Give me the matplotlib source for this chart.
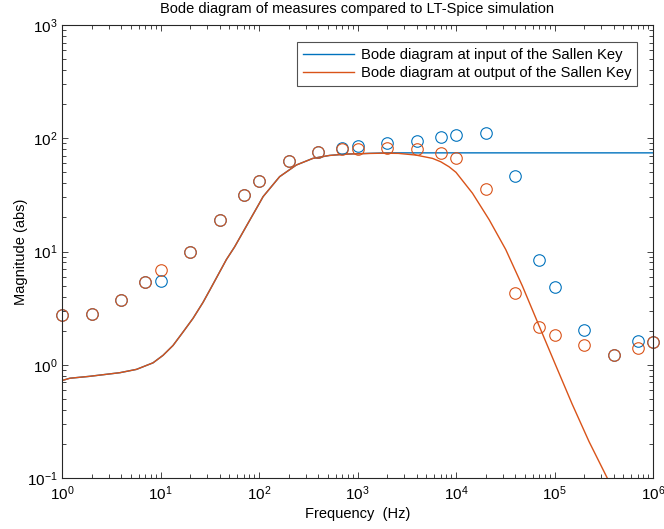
import matplotlib
matplotlib.use("Agg")
import matplotlib.pyplot as plt
from matplotlib.ticker import LogLocator, NullFormatter

plt.rcParams['font.family'] = ['Liberation Sans', 'DejaVu Sans']
plt.rcParams['mathtext.fontset'] = 'custom'
plt.rcParams['mathtext.rm'] = 'Liberation Sans'
plt.rcParams['mathtext.it'] = 'Liberation Sans:italic'
plt.rcParams['mathtext.bf'] = 'Liberation Sans:bold'

# Measured frequencies (Hz)
freq_meas = [1, 2, 4, 7, 10, 20, 40, 70, 100, 200, 400, 700, 1000, 2000, 4000,
             7000, 10000, 20000, 40000, 70000, 100000, 200000, 400000, 700000, 1000000]
# Measured magnitude at input
mag_in_meas = [2.75, 2.8, 3.72, 5.35, 5.46, 9.94, 19.0, 31.7, 42.0, 62.9, 75.9,
               81.2, 85.1, 90.4, 94.2, 102, 107, 110.6, 46.7, 8.46, 4.86, 2.04,
               1.22, 1.61, 1.59]
# Measured magnitude at output
mag_out_meas = [2.75, 2.8, 3.72, 5.42, 6.91, 9.94, 19.0, 31.7, 42.0, 62.9, 75.9,
                79.6, 80.6, 81.7, 79.6, 74.3, 66.4, 35.9, 4.28, 2.15, 1.84, 1.48,
                1.22, 1.41, 1.59]

# LT-Spice simulation, input node
freq_sim_in = [1, 1.2, 1.9, 3.87, 5.7, 8.4, 10.6, 13.4, 16.9, 21.4, 27, 32, 46.7,
               56.6, 74.3, 101, 110, 162, 239, 352, 519, 767, 1320, 2000, 5000,
               20000, 100000, 1000000]
mag_in_sim = [0.725, 0.76, 0.79, 0.851, 0.91, 1.04, 1.21, 1.48, 1.94, 2.57, 3.55,
              4.64, 8.5, 11.0, 16.7, 26.7, 30.5, 45.8, 58.0, 66.4, 70.5, 72.5,
              73.6, 74.3, 74.3, 74.3, 74.3, 74.3]

# LT-Spice simulation, output node
freq_sim_out = [1, 1.2, 1.9, 3.87, 5.7, 8.4, 10.6, 13.4, 16.9, 21.4, 27, 32, 46.7,
                56.6, 74.3, 101, 110, 162, 239, 352, 519, 767, 1320, 1800, 2600,
                3930, 5780, 7000, 8500, 10000, 14700, 21700, 32000, 47200, 69700,
                102800, 151000, 224000, 343000, 1000000]
mag_out_sim = [0.725, 0.76, 0.79, 0.851, 0.91, 1.04, 1.21, 1.48, 1.94, 2.57, 3.55,
               4.64, 8.5, 11.0, 16.7, 26.7, 30.5, 45.8, 58.0, 66.4, 70.5, 72.4,
               73.4, 73.8, 73.5, 71.0, 66.4, 62.0, 56.0, 50.0, 32.7, 19.1, 10.4,
               4.96, 2.21, 0.99, 0.45, 0.21, 0.1, 0.0125]

labels = ['Bode diagram at input of the Sallen Key',
          'Bode diagram at output of the Sallen Key']

c_blue = '#0072BD'
c_orange = '#D95319'

fig = plt.figure(figsize=(6.64, 5.29), dpi=100)
ax = fig.add_axes([62/664, 1-478/529, (653-62)/664, (478-25)/529])

ax.plot(freq_sim_in, mag_in_sim, color=c_blue, lw=1.0, label=labels[0])
ax.plot(freq_sim_out, mag_out_sim, color=c_orange, lw=1.0, label=labels[1])
ax.plot(freq_meas, mag_in_meas, 'o', mfc='none', mec=c_blue, ms=8.3, mew=0.8,
        clip_on=False)
ax.plot(freq_meas, mag_out_meas, 'o', mfc='none', mec=c_orange, ms=8.3, mew=0.8,
        clip_on=False)

ax.set_xscale('log')
ax.set_yscale('log')
ax.set_xlim(1, 1e6)
ax.set_ylim(0.1, 1000)
ax.xaxis.set_major_locator(LogLocator(base=10, numticks=10))
ax.yaxis.set_major_locator(LogLocator(base=10, numticks=10))
ax.xaxis.set_minor_locator(LogLocator(base=10, subs=range(2, 10), numticks=20))
ax.yaxis.set_minor_locator(LogLocator(base=10, subs=range(2, 10), numticks=20))
ax.xaxis.set_minor_formatter(NullFormatter())
ax.yaxis.set_minor_formatter(NullFormatter())

ax.tick_params(which='both', direction='in', top=True, right=True,
               colors='#262626', labelcolor='black', labelsize=11, width=0.6)
ax.tick_params(which='major', length=4.5)
ax.tick_params(axis='x', which='major', pad=4.5)
ax.tick_params(axis='y', which='major', pad=3)
ax.tick_params(which='minor', length=2.8)
for s in ax.spines.values():
    s.set_color('#262626')
    s.set_linewidth(0.8)

ax.set_xlabel('Frequency  (Hz)', fontsize=10.5, labelpad=3)
ax.set_ylabel('Magnitude (abs)', fontsize=10.5, labelpad=-1)
ax.set_title('Bode diagram of measures compared to LT-Spice simulation',
             fontsize=10.5, pad=8.5)

leg = ax.legend(loc='upper right', bbox_to_anchor=(0.973, 0.9625), fontsize=10.6,
                frameon=True, fancybox=False, handlelength=3.5, handletextpad=0.45,
                borderpad=0.4, labelspacing=0.3, borderaxespad=0)
leg.get_frame().set_edgecolor('#262626')
leg.get_frame().set_linewidth(0.8)

fig.savefig('out.png', dpi=100)
